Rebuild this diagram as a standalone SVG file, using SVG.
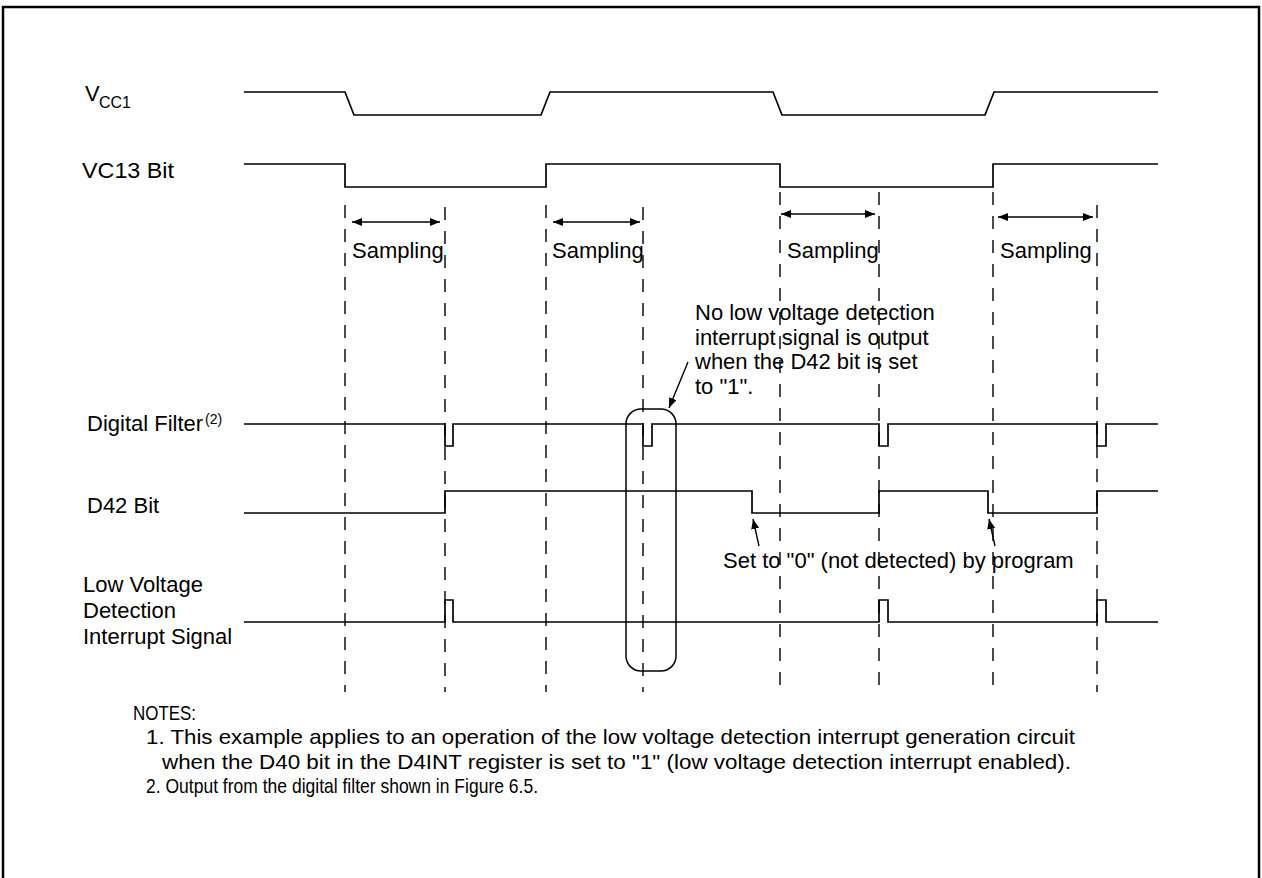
<svg xmlns="http://www.w3.org/2000/svg" width="1262" height="878" viewBox="0 0 1262 878">
<style>
.sig{fill:none;stroke:#000;stroke-width:1.7}
.dash{fill:none;stroke:#000;stroke-width:1.4;stroke-dasharray:13 11}
.arr{fill:none;stroke:#000;stroke-width:1.4}
.t{font-family:"Liberation Sans",Arial,sans-serif;font-size:22px;fill:#000}
.n{font-family:"Liberation Sans",Arial,sans-serif;font-size:21px;fill:#000}
</style>
<defs>
<marker id="ah" viewBox="0 0 10 8" refX="10" refY="4" markerWidth="10" markerHeight="8" markerUnits="userSpaceOnUse" orient="auto-start-reverse">
<path d="M0,0 L10,4 L0,8 Z" fill="#000"/>
</marker>
</defs>
<rect width="1262" height="878" fill="#fff"/>
<path d="M3,878 V7 H1259 V878" fill="none" stroke="#000" stroke-width="2.5"/>

<g id="guides">
<line class="dash" x1="345" y1="205" x2="345" y2="692"/>
<line class="dash" x1="445" y1="207" x2="445" y2="692"/>
<line class="dash" x1="546" y1="205" x2="546" y2="692"/>
<line class="dash" x1="643" y1="207" x2="643" y2="692"/>
<line class="dash" x1="780" y1="192" x2="780" y2="692"/>
<line class="dash" x1="879" y1="192" x2="879" y2="692"/>
<line class="dash" x1="993" y1="192" x2="993" y2="692"/>
<line class="dash" x1="1097" y1="205" x2="1097" y2="692"/>
</g>

<g id="vcc1">
<text class="t" x="85" y="101">V</text>
<text class="t" x="99" y="108" style="font-size:16px">CC1</text>
<path class="sig" d="M244,92 H345 L354,115 H541 L550,92 H773 L782,115 H985 L994,92 H1158"/>
</g>

<g id="vc13">
<text class="t" x="82" y="178" textLength="92" lengthAdjust="spacingAndGlyphs">VC13 Bit</text>
<path class="sig" d="M244,164 H345 V187 H546 V164 H780 V187 H993 V164 H1158"/>
</g>

<g id="sampling">
<text class="t" x="352" y="258">Sampling</text>
<text class="t" x="552" y="258">Sampling</text>
<text class="t" x="787" y="258">Sampling</text>
<text class="t" x="1000" y="258">Sampling</text>
</g>

<g id="digital-filter">
<text class="t" x="87" y="431">Digital Filter</text>
<text class="t" x="205" y="424" style="font-size:14px">(2)</text>
<path class="sig" d="M244,424 H445 V446 H453 V424 H643 V446 H652 V424 H879 V446 H888 V424 H1097 V446 H1106 V424 H1158"/>
</g>

<g id="d42">
<text class="t" x="87" y="513">D42 Bit</text>
<path class="sig" d="M244,513 H445 V491 H752 V513 H879 V491 H988 V513 H1097 V491 H1158"/>
</g>

<g id="interrupt">
<text class="t" x="83" y="592">Low Voltage</text>
<text class="t" x="83" y="618">Detection</text>
<text class="t" x="83" y="644">Interrupt Signal</text>
<path class="sig" d="M244,622 H445 V600 H453 V622 H879 V600 H888 V622 H1097 V600 H1106 V622 H1158"/>
</g>

<g id="highlight">
<rect x="626" y="409" width="50" height="262" rx="15" ry="15" fill="none" stroke="#000" stroke-width="1.5"/>
</g>

<g id="note-no-output">
<text class="t" x="695" y="320">No low voltage detection</text>
<text class="t" x="695" y="344.5">interrupt signal is output</text>
<text class="t" x="695" y="369">when the D42 bit is set</text>
<text class="t" x="695" y="393.5">to "1".</text>
</g>

<g id="note-set0">
<text class="t" x="723" y="568">Set to "0" (not detected) by program</text>
</g>

<g id="connectors">
<line class="arr" x1="352" y1="222" x2="440" y2="222" marker-start="url(#ah)" marker-end="url(#ah)"/>
<line class="arr" x1="553" y1="222" x2="640" y2="222" marker-start="url(#ah)" marker-end="url(#ah)"/>
<line class="arr" x1="781" y1="214" x2="875" y2="214" marker-start="url(#ah)" marker-end="url(#ah)"/>
<line class="arr" x1="998" y1="217" x2="1093" y2="217" marker-start="url(#ah)" marker-end="url(#ah)"/>
<line class="arr" x1="688" y1="362" x2="669" y2="408" marker-end="url(#ah)"/>
<line class="arr" x1="759" y1="546" x2="753" y2="519" marker-end="url(#ah)"/>
<line class="arr" x1="995" y1="546" x2="989" y2="519" marker-end="url(#ah)"/>
</g>

<g id="notes">
<text class="n" x="133" y="720" textLength="63" lengthAdjust="spacingAndGlyphs">NOTES:</text>
<text class="n" x="146" y="744" textLength="929" lengthAdjust="spacingAndGlyphs">1. This example applies to an operation of the low voltage detection interrupt generation circuit</text>
<text class="n" x="162" y="769" textLength="909" lengthAdjust="spacingAndGlyphs">when the D40 bit in the D4INT register is set to "1" (low voltage detection interrupt enabled).</text>
<text class="n" x="146" y="793" textLength="392" lengthAdjust="spacingAndGlyphs">2. Output from the digital filter shown in Figure 6.5.</text>
</g>
</svg>
